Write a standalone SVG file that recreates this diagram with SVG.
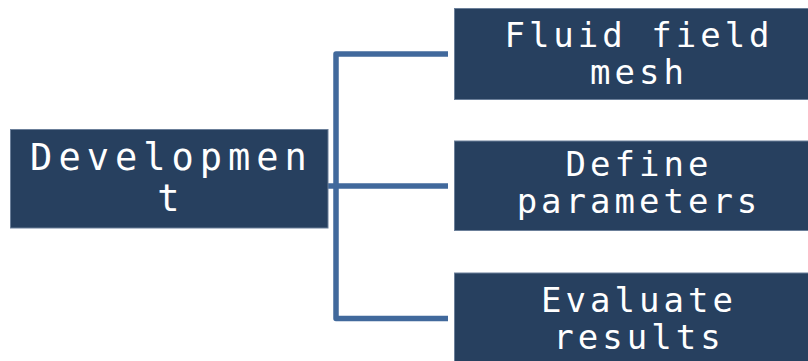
<svg xmlns="http://www.w3.org/2000/svg" width="808" height="361" viewBox="0 0 808 361">
<style>
.box{fill:#27405f;stroke:#6b7f99;stroke-width:1}
.conn{fill:none;stroke:#41699c;stroke-width:5.5;stroke-linejoin:round}
.tl{font-family:"DejaVu Sans Mono","Liberation Mono",monospace;font-size:37px;letter-spacing:6px;fill:#ffffff;text-anchor:middle}
.tr{font-family:"DejaVu Sans Mono","Liberation Mono",monospace;font-size:34px;letter-spacing:4px;fill:#ffffff;text-anchor:middle}
</style>
<rect width="808" height="361" fill="#ffffff"/>
<g id="connectors">
<path class="conn" d="M448,54 H336 V318.5 H448"/>
<path class="conn" d="M328,186 H448"/>
</g>
<g id="development">
<rect class="box" x="10.5" y="129.5" width="317.5" height="98.5"/>
<text class="tl" x="171.5" y="170">Developmen</text>
<text class="tl" x="171.5" y="211">t</text>
</g>
<g id="fluid-field-mesh">
<rect class="box" x="454.5" y="8.5" width="370" height="91"/>
<text class="tr" x="639" y="47">Fluid field</text>
<text class="tr" x="639" y="84">mesh</text>
</g>
<g id="define-parameters">
<rect class="box" x="454.5" y="141" width="370" height="89.5"/>
<text class="tr" x="639" y="176">Define</text>
<text class="tr" x="639" y="213">parameters</text>
</g>
<g id="evaluate-results">
<rect class="box" x="454.5" y="273" width="370" height="100"/>
<text class="tr" x="639" y="312">Evaluate</text>
<text class="tr" x="639" y="349">results</text>
</g>
</svg>
